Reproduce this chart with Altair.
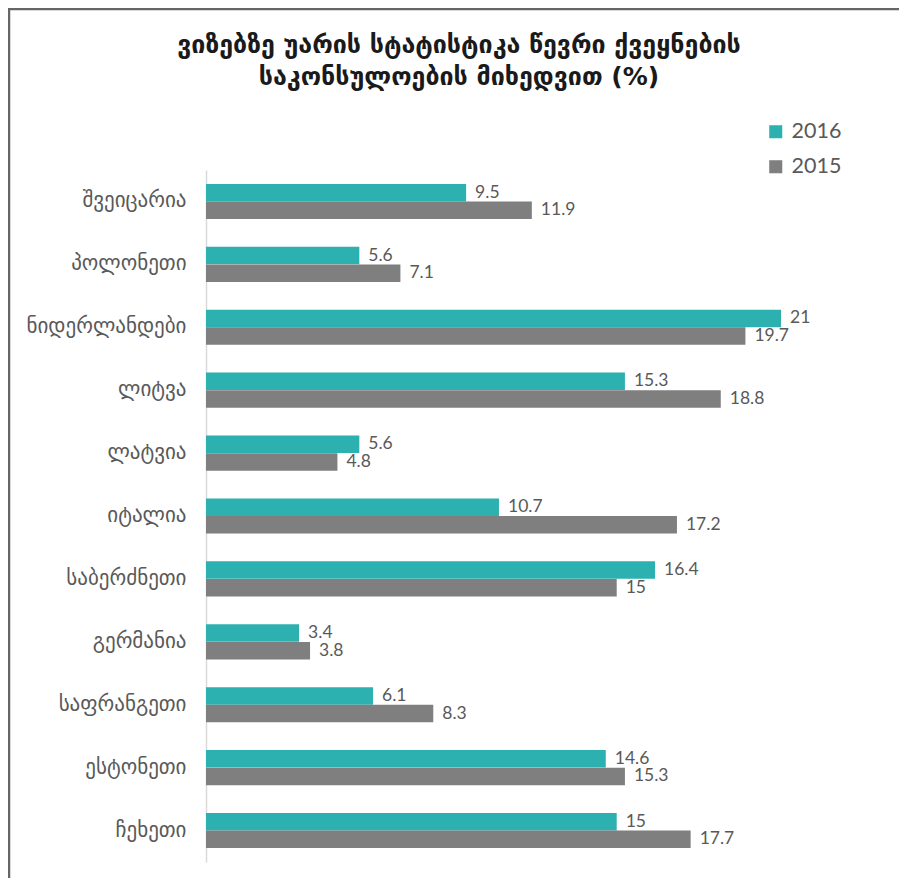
import altair as alt
import pandas as pd

countries = ["შვეიცარია", "პოლონეთი", "ნიდერლანდები", "ლიტვა", "ლატვია", "იტალია",
             "საბერძნეთი", "გერმანია", "საფრანგეთი", "ესტონეთი", "ჩეხეთი"]
v2016 = [9.5, 5.6, 21, 15.3, 5.6, 10.7, 16.4, 3.4, 6.1, 14.6, 15]
v2015 = [11.9, 7.1, 19.7, 18.8, 4.8, 17.2, 15, 3.8, 8.3, 15.3, 17.7]
years = ["2016", "2015"]
colors = ["#2DB0B0", "#7F7F7F"]
title_lines = ["ვიზებზე უარის სტატისტიკა წევრი ქვეყნების", "საკონსულოების მიხედვით (%)"]

rows = []
for c, a, b in zip(countries, v2016, v2015):
    rows.append({"country": c, "year": "2016", "value": a})
    rows.append({"country": c, "year": "2015", "value": b})
df = pd.DataFrame(rows)

W, H = 575, 692
PL, PT = 198, 162

y = alt.Y("country:N", sort=countries,
          scale=alt.Scale(paddingInner=0.44, paddingOuter=0.22),
          axis=alt.Axis(title=None, ticks=False, labelPadding=20, labelFont="DejaVu Sans",
                        labelFontSize=21, labelColor="#595959", domainColor="#D9D9D9",
                        domainWidth=1.5, labelLimit=300))
x = alt.X("value:Q", scale=alt.Scale(domain=[0, 21], nice=False), axis=None)
yoff = alt.YOffset("year:N", sort=years)

base = alt.Chart(df).encode(y=y, yOffset=yoff)

bars = base.mark_bar(size=17.5).encode(
    x=x,
    color=alt.Color("year:N", sort=years,
                    scale=alt.Scale(domain=years, range=colors),
                    legend=alt.Legend(title=None, orient="none", legendX=559, legendY=-49,
                                      symbolType="square", symbolSize=170, symbolStrokeWidth=0,
                                      labelFont="Lato", labelFontSize=21.5, labelColor="#595959",
                                      rowPadding=12, labelOffset=5)),
)
labels = base.mark_text(align="left", baseline="middle", dx=9, font="Lato",
                        fontSize=17.5, color="#595959").encode(
    x=x, text=alt.Text("value:Q"))

one = alt.Data(values=[{"k": 1}])
frame = alt.Chart(one).mark_rule(color="#666666", strokeWidth=2.5).encode(
    x=alt.value(-197), y=alt.value(-PT), y2=alt.value(H + 20))
frame_top = alt.Chart(one).mark_rule(color="#666666", strokeWidth=2.5).encode(
    x=alt.value(-PL), x2=alt.value(W + 120), y=alt.value(-PT + 1))

title_layers = []
for i, line in enumerate(title_lines):
    title_layers.append(
        alt.Chart(one).mark_text(font="DejaVu Sans", fontSize=25, fontWeight="bold",
                                 color="#1A1A1A", align="center", baseline="middle").encode(
            x=alt.value(253), y=alt.value(-125 + 32 * i), text=alt.value(line))
    )

chart = alt.layer(bars, labels, frame, frame_top, *title_layers).properties(
    width=W, height=H,
    autosize=alt.AutoSizeParams(type="none"),
    padding={"left": PL, "top": PT, "right": 118, "bottom": 16},
).configure_view(stroke=None)

chart.save("out.html", embed_options={"renderer": "svg", "actions": False})
